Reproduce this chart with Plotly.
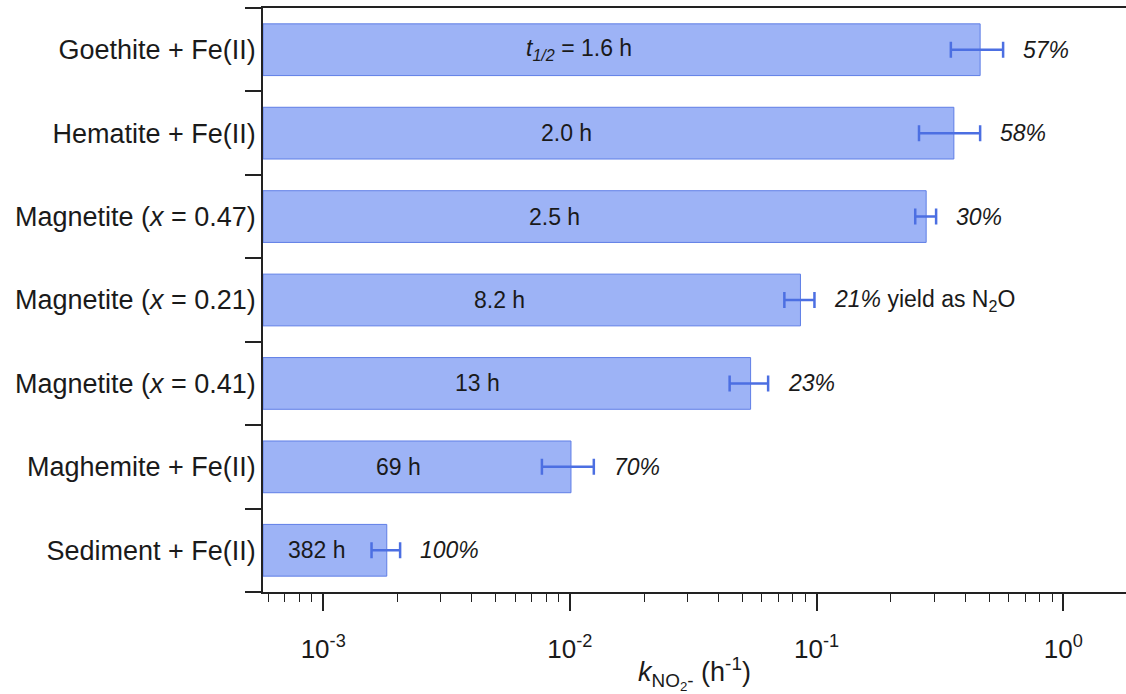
import math
import plotly.graph_objects as go

# Nitrite reduction rate constants (h^-1) by mineral system
samples = [
    "Goethite + Fe(II)",
    "Hematite + Fe(II)",
    "Magnetite (<i>x</i> = 0.47)",
    "Magnetite (<i>x</i> = 0.21)",
    "Magnetite (<i>x</i> = 0.41)",
    "Maghemite + Fe(II)",
    "Sediment + Fe(II)",
]
k_rate = [0.46, 0.36, 0.278, 0.086, 0.054, 0.0101, 0.00181]
k_err = [0.11, 0.10, 0.027, 0.012, 0.0096, 0.0024, 0.00024]
half_life = ["<i>t</i><sub><i>1/2</i></sub> = 1.6 h", "2.0 h", "2.5 h", "8.2 h", "13 h", "69 h", "382 h"]
n2o_yield = ["57%", "58%", "30%", "21%", "23%", "70%", "100%"]
yield_suffix = ["", "", "", " yield as N<sub>2</sub>O", "", "", ""]

x_min_log, x_max_log = -3.244, 0.254
x_left = 10 ** x_min_log

FONT = "Liberation Sans, Arial, sans-serif"
BAR_FILL = "#9db3f6"
BAR_LINE = "#5f7ee6"
ERR_COLOR = "#4c6fe2"
TXT = "#1a1a1a"

fig = go.Figure()
fig.add_trace(go.Bar(
    y=samples,
    x=[k - x_left for k in k_rate],
    base=x_left,
    orientation="h",
    width=0.62,
    marker=dict(color=BAR_FILL, line=dict(color=BAR_LINE, width=1)),
    error_x=dict(type="data", array=k_err, color=ERR_COLOR, thickness=2.5, width=8),
    hoverinfo="skip",
    showlegend=False,
))

# half-life labels inside the bars
for s, k, lab in zip(samples, k_rate, half_life):
    xpos = x_min_log + 0.44 * (math.log10(k) - x_min_log)
    fig.add_annotation(x=xpos, y=s, xref="x", yref="y", text=lab, showarrow=False,
                       xanchor="center", yanchor="middle",
                       font=dict(family=FONT, size=23, color=TXT))

# N2O yield labels to the right of the error bars
for s, k, e, pct, suf in zip(samples, k_rate, k_err, n2o_yield, yield_suffix):
    fig.add_annotation(x=math.log10(k + e), y=s, xref="x", yref="y",
                       text="<i>" + pct + "</i>" + suf, showarrow=False,
                       xanchor="left", yanchor="middle", xshift=18,
                       font=dict(family=FONT, size=23, color=TXT))

major = [1e-3, 1e-2, 1e-1, 1e0]
major_text = ["10<sup>-3</sup>", "10<sup>-2</sup>", "10<sup>-1</sup>", "10<sup>0</sup>"]
minor_vals = [m * 10 ** p for p in range(-4, 1) for m in range(2, 10)]

fig.update_layout(
    width=1126, height=694,
    margin=dict(l=263, r=0, t=8, b=102),
    paper_bgcolor="white", plot_bgcolor="white",
    font=dict(family=FONT, color=TXT),
    xaxis=dict(
        type="log",
        range=[x_min_log, x_max_log],
        tickmode="array", tickvals=major, ticktext=major_text,
        ticks="outside", ticklen=17, tickwidth=1.5, tickcolor="#222",
        showline=True, linecolor="#222", linewidth=1.5, mirror=True,
        showgrid=False, zeroline=False,
        tickfont=dict(family=FONT, size=26, color=TXT),
        ticklabelstandoff=16,
        minor=dict(tickmode="array", tickvals=minor_vals, ticks="outside",
                   ticklen=8, tickwidth=1.3, tickcolor="#222", showgrid=False),
        title=dict(text="<i>k</i><sub>NO<sub>2</sub>-</sub> (h<sup>-1</sup>)",
                   font=dict(family=FONT, size=27, color=TXT), standoff=2),
    ),
    yaxis=dict(
        type="category",
        categoryorder="array", categoryarray=samples[::-1],
        range=[-0.5, 6.5],
        tickson="boundaries",
        ticks="outside", ticklen=16, tickwidth=1.5, tickcolor="#222",
        showline=True, linecolor="#222", linewidth=1.5,
        showgrid=False, zeroline=False,
        tickfont=dict(family=FONT, size=27, color=TXT),
        ticklabelstandoff=0,
    ),
)

fig.write_html("out.html")
